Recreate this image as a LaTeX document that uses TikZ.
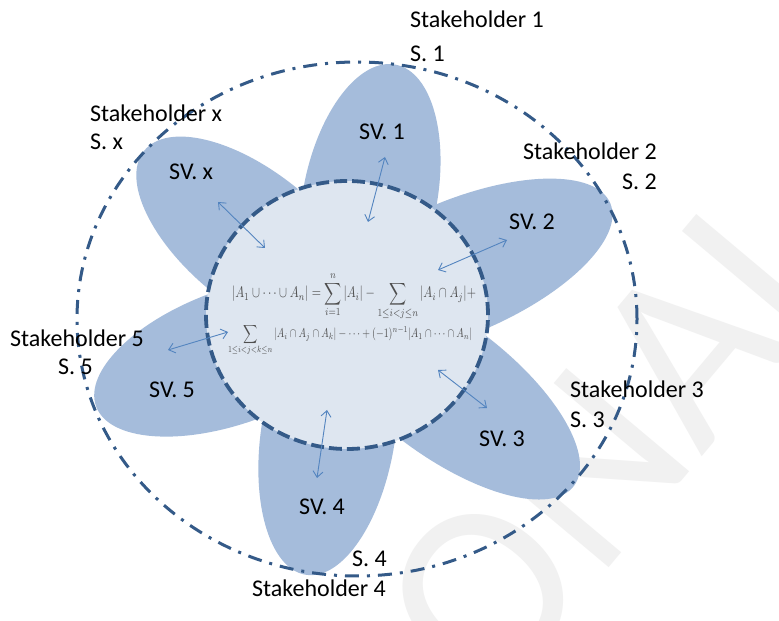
\documentclass[tikz,border=0pt]{standalone}
\usepackage{fontspec}
\setmainfont{Carlito}
\usepackage{amsmath}
\usepackage{graphicx}
\usetikzlibrary{arrows.meta,calc}
\definecolor{petal}{HTML}{A5BCDB}
\definecolor{core}{HTML}{DEE6F0}
\definecolor{rim}{HTML}{345A88}
\definecolor{arr}{HTML}{5384BF}
\definecolor{wm}{HTML}{F1F1F1}
\definecolor{fgray}{HTML}{4E4E4E}
\begin{document}
\begin{tikzpicture}[x=1pt,y=1pt,
  lbl/.style={anchor=base west, inner sep=0pt, font=\fontsize{24}{28}\selectfont},
  lble/.style={anchor=base east, inner sep=0pt, font=\fontsize{24}{28}\selectfont},
  link/.style={draw=arr, line width=0.9pt, {Straight Barb[length=6pt,width=10pt]}-{Straight Barb[length=6pt,width=10pt]}},
  innerrim/.style={fill=core, draw=rim, line width=3.8pt, dash pattern=on 13pt off 5pt},
  outerrim/.style={draw=rim, line width=3pt, dash pattern=on 14pt off 8pt on 3pt off 8pt},
]
\useasboundingbox (0,0) rectangle (779,621);
\fill[white] (0,0) rectangle (779,621);
% watermark
\node[rotate=50, text=wm, font=\fontsize{250}{250}\selectfont, inner sep=0pt] (wmk) at (615,185) {ONAL};
% petals
\coordinate (C) at (347,306);
\foreach \ang/\len [count=\i] in {79/135, 23/166, -37/164, -99/143, 200/147, 141/141} {
  \coordinate (P\i) at ($(C)+(\ang:120pt)$);
  \fill[petal, rotate around={\ang:(P\i)}] (P\i) ellipse [x radius=\len pt, y radius=67pt];
}
% inner circle
\draw[innerrim] (C) ellipse [x radius=141pt, y radius=134pt];
% outer dash-dot ring
\draw[outerrim] (357,302) ellipse [x radius=280pt, y radius=257pt];
% formula
\node[text=fgray, inner sep=0pt] (f1) at (354,325) {\scalebox{1}[1.3]{\resizebox{244pt}{!}{$\displaystyle |A_1\cup\dots\cup A_n| = \sum_{i=1}^{n}|A_i| - \sum_{1\le i<j\le n}|A_i\cap A_j| +$}}};
\node[text=fgray, inner sep=0pt] (f2) at (350,281) {\scalebox{1}[1.3]{\resizebox{244pt}{!}{$\displaystyle \sum_{1\le i<j<k\le n}|A_i\cap A_j\cap A_k| - \dots + (-1)^{n-1}|A_1\cap\dots\cap A_n|$}}};
% arrows
\coordinate (a1s) at (368,399); \coordinate (a1e) at (385,464);
\coordinate (axs) at (265,373); \coordinate (axe) at (218,419);
\coordinate (a2s) at (438,351); \coordinate (a2e) at (507,381);
\coordinate (a3s) at (438,251); \coordinate (a3e) at (487,213);
\coordinate (a4s) at (327,211); \coordinate (a4e) at (317,143);
\coordinate (a5s) at (228,289); \coordinate (a5e) at (168,271);
\draw[link] (a1s) -- (a1e);
\draw[link] (axs) -- (axe);
\draw[link] (a2s) -- (a2e);
\draw[link] (a3s) -- (a3e);
\draw[link] (a4s) -- (a4e);
\draw[link] (a5s) -- (a5e);
% petal labels
\node[lbl] (sv1) at (359,481) {SV. 1};
\node[lbl] (svx) at (169,441) {SV. x};
\node[lbl] (sv2) at (509,391) {SV. 2};
\node[lbl] (sv3) at (479,174) {SV. 3};
\node[lbl] (sv4) at (299,106) {SV. 4};
\node[lbl] (sv5) at (149,223) {SV. 5};
% stakeholder labels
\node[lbl] (st1) at (410,593) {Stakeholder 1};
\node[lbl] (s1) at (410,559) {S. 1};
\node[lbl] (stx) at (90,499) {Stakeholder x};
\node[lbl] (sx) at (90,471) {S. x};
\node[lble] (st2) at (657,461) {Stakeholder 2};
\node[lble] (s2) at (657,431) {S. 2};
\node[lbl] (st3) at (570,223) {Stakeholder 3};
\node[lbl] (s3) at (570,193) {S. 3};
\node[lbl] (st4) at (252,24) {Stakeholder 4};
\node[lble] (s4) at (387,54) {S. 4};
\node[lbl] (st5) at (10,274) {Stakeholder 5};
\node[lbl] (s5) at (58,246) {S. 5};
\end{tikzpicture}
\end{document}
